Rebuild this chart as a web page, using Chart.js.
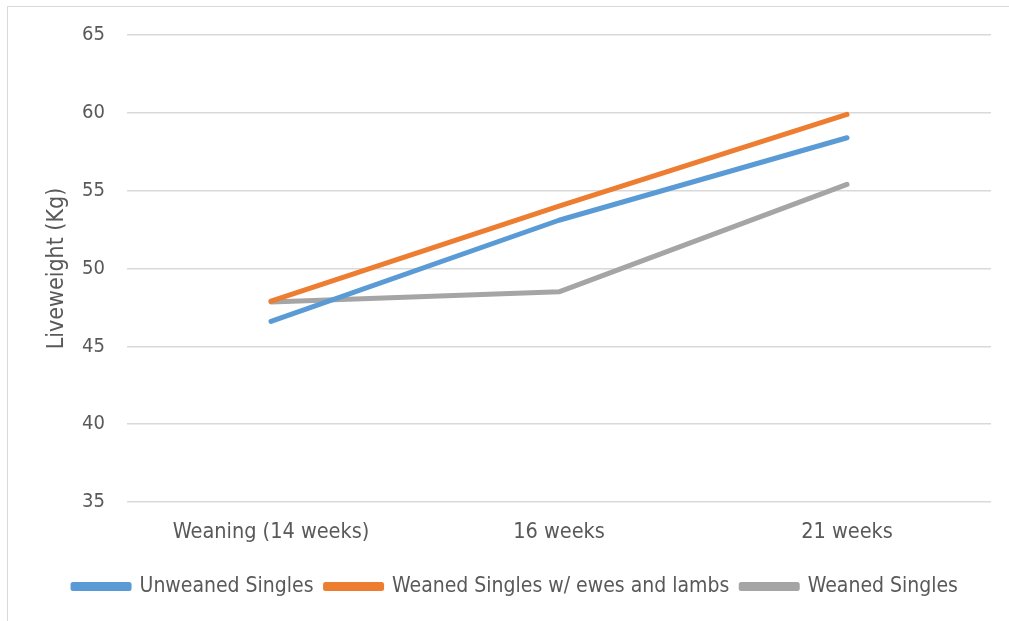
<!DOCTYPE html>
<html>
<head>
<meta charset="utf-8">
<script src="https://cdn.jsdelivr.net/npm/chart.js@4"></script>
<style>
  html, body { margin: 0; padding: 0; background: #fff; overflow: hidden; }
  #wrap { position: absolute; left: 0; top: 0; width: 1009px; height: 621px; }
  #frame { position: absolute; left: 7px; top: 6px; width: 1100px; height: 700px; border: 1px solid #d9d9d9; }
</style>
</head>
<body>
<div id="frame"></div>
<div id="wrap"><canvas id="liveweightChart"></canvas></div>
<script>
const categories = ['Weaning (14 weeks)', '16 weeks', '21 weeks'];
const unweanedSingles = [46.6, 53.1, 58.4];
const weanedWithEwes = [47.9, 54.0, 59.9];
const weanedSingles = [47.85, 48.5, 55.4];
const yTicks = [35, 40, 45, 50, 55, 60, 65];

const fontFamily = '"Liberation Sans Narrow", "DejaVu Sans Condensed", "Open Sans", sans-serif';
const textColor = '#595959';

function lineSet(label, data, color) {
    return {
        label: label,
        data: data,
        borderColor: color,
        backgroundColor: color,
        borderWidth: 5,
        borderCapStyle: 'round',
        borderJoinStyle: 'round',
        pointRadius: 0,
        tension: 0
    };
}

const ctx = document.getElementById('liveweightChart').getContext('2d');
ctx.canvas.width = 1009;
ctx.canvas.height = 621;

new Chart(ctx, {
    type: 'line',
    data: {
        labels: categories,
        datasets: [
            lineSet('Unweaned Singles', unweanedSingles, '#5B9BD5'),
            lineSet('Weaned Singles w/ ewes and lambs', weanedWithEwes, '#ED7D31'),
            lineSet('Weaned Singles', weanedSingles, '#A5A5A5')
        ]
    },
    options: {
        responsive: false,
        animation: false,
        layout: { padding: { top: 35, right: 18, bottom: 14, left: 40 } },
        plugins: {
            tooltip: { enabled: false },
            legend: {
                position: 'bottom',
                labels: {
                    boxWidth: 56,
                    boxHeight: 4,
                    padding: 12,
                    color: textColor,
                    font: { family: fontFamily, size: 21 }
                }
            }
        },
        scales: {
            x: {
                offset: true,
                grid: { display: false },
                border: { display: false },
                ticks: { color: textColor, font: { family: fontFamily, size: 21.5 }, padding: 10, maxRotation: 0 },
                afterFit: (axis) => { axis.height = 62; }
            },
            y: {
                min: 35,
                max: 65,
                afterBuildTicks: (axis) => { axis.ticks = yTicks.map((v) => ({ value: v })); },
                grid: { color: '#d9d9d9', lineWidth: 1.5, drawTicks: false },
                border: { display: false },
                ticks: { color: textColor, font: { family: fontFamily, size: 20 }, padding: 22 },
                title: {
                    display: true,
                    text: 'Liveweight (Kg)',
                    color: textColor,
                    font: { family: fontFamily, size: 23 },
                    padding: { top: 3, bottom: 0 }
                },
                afterFit: (axis) => { axis.width = 87; }
            }
        }
    }
});
</script>
</body>
</html>
